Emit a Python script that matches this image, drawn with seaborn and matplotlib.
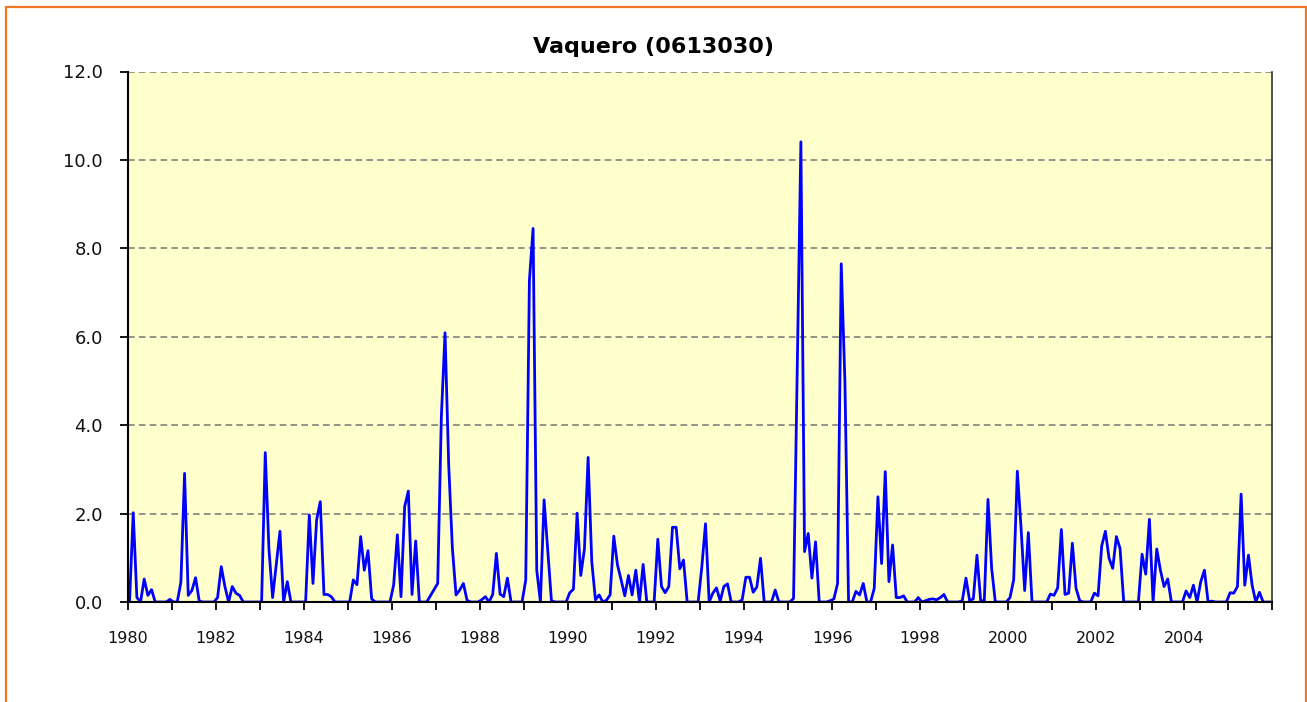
"""Monthly flow series chart for the Vaquero station (0613030)."""

import matplotlib

matplotlib.use("Agg")

import matplotlib.pyplot as plt
import numpy as np
import pandas as pd
import seaborn as sns
from matplotlib.patches import Rectangle

TITLE = "Vaquero (0613030)"
START_YEAR = 1980
END_YEAR = 2006

# monthly values, one row of 12 per year
flow_1980s = [
    0.0, 2.02, 0.1, 0.0, 0.52, 0.15, 0.28, 0.0, 0.0, 0.0, 0.0, 0.06,      # 1980
    0.0, 0.0, 0.45, 2.91, 0.15, 0.26, 0.55, 0.02, 0.0, 0.0, 0.0, 0.0,     # 1981
    0.1, 0.8, 0.35, 0.0, 0.35, 0.2, 0.15, 0.0, 0.0, 0.0, 0.0, 0.0,        # 1982
    0.0, 3.38, 1.2, 0.1, 0.85, 1.6, 0.0, 0.46, 0.0, 0.0, 0.0, 0.0,        # 1983
    0.0, 1.97, 0.42, 1.86, 2.27, 0.17, 0.17, 0.12, 0.0, 0.0, 0.0, 0.0,    # 1984
    0.0, 0.5, 0.39, 1.48, 0.72, 1.16, 0.07, 0.0, 0.0, 0.0, 0.0, 0.0,      # 1985
    0.39, 1.52, 0.12, 2.16, 2.51, 0.17, 1.38, 0.0, 0.0, 0.0, 0.14, 0.28,  # 1986
    0.42, 4.2, 6.09, 3.1, 1.22, 0.16, 0.27, 0.42, 0.04, 0.0, 0.0, 0.0,    # 1987
    0.05, 0.12, 0.0, 0.17, 1.1, 0.18, 0.12, 0.54, 0.0, 0.0, 0.0, 0.0,     # 1988
    0.5, 7.28, 8.45, 0.72, 0.0, 2.31, 1.17, 0.03, 0.0, 0.0, 0.0, 0.0,     # 1989
]
flow_1990s = [
    0.21, 0.29, 2.01, 0.6, 1.2, 3.27, 0.91, 0.05, 0.16, 0.0, 0.04, 0.16,  # 1990
    1.49, 0.84, 0.5, 0.14, 0.6, 0.16, 0.72, 0.0, 0.85, 0.0, 0.0, 0.0,     # 1991
    1.42, 0.35, 0.21, 0.35, 1.69, 1.69, 0.75, 0.95, 0.0, 0.0, 0.0, 0.0,   # 1992
    0.8, 1.77, 0.0, 0.2, 0.32, 0.02, 0.35, 0.41, 0.0, 0.0, 0.0, 0.05,     # 1993
    0.56, 0.56, 0.22, 0.34, 0.99, 0.0, 0.0, 0.0, 0.27, 0.0, 0.0, 0.0,     # 1994
    0.0, 0.08, 5.3, 10.41, 1.14, 1.55, 0.54, 1.36, 0.0, 0.0, 0.0, 0.03,   # 1995
    0.07, 0.42, 7.65, 5.0, 0.0, 0.0, 0.24, 0.16, 0.42, 0.0, 0.0, 0.31,    # 1996
    2.38, 0.87, 2.95, 0.46, 1.29, 0.1, 0.1, 0.14, 0.0, 0.0, 0.0, 0.1,     # 1997
    0.0, 0.03, 0.06, 0.07, 0.05, 0.1, 0.17, 0.0, 0.0, 0.0, 0.0, 0.03,     # 1998
    0.54, 0.03, 0.07, 1.06, 0.03, 0.03, 2.32, 0.76, 0.0, 0.0, 0.0, 0.0,   # 1999
]
flow_2000s = [
    0.1, 0.5, 2.96, 1.7, 0.26, 1.57, 0.0, 0.0, 0.0, 0.0, 0.0, 0.18,       # 2000
    0.15, 0.32, 1.64, 0.17, 0.2, 1.33, 0.31, 0.03, 0.0, 0.0, 0.0, 0.2,    # 2001
    0.14, 1.27, 1.6, 0.99, 0.76, 1.48, 1.21, 0.0, 0.0, 0.0, 0.0, 0.0,     # 2002
    1.08, 0.63, 1.87, 0.0, 1.2, 0.72, 0.35, 0.52, 0.0, 0.0, 0.0, 0.0,     # 2003
    0.25, 0.1, 0.38, 0.0, 0.46, 0.72, 0.0, 0.02, 0.0, 0.0, 0.0, 0.0,      # 2004
    0.21, 0.2, 0.35, 2.44, 0.38, 1.06, 0.38, 0.0, 0.22, 0.0, 0.0, 0.0,    # 2005
]

y_ticks = [0.0, 2.0, 4.0, 6.0, 8.0, 10.0, 12.0]
x_ticks = list(range(START_YEAR, END_YEAR + 1))
x_labels = [str(y) if (y % 2 == 0 and y < END_YEAR) else "" for y in x_ticks]

FIG_W, FIG_H = 1307, 702
LINE_COLOR = "#0000FF"
PLOT_BG = "#FFFFCC"
BORDER_COLOR = "#F07820"


def build_frame() -> pd.DataFrame:
    values = flow_1980s + flow_1990s + flow_2000s
    months = np.arange(len(values))
    return pd.DataFrame({"date": START_YEAR + (months + 0.5) / 12.0, "flow": values})


def main() -> None:
    sns.set_theme(style="white")
    plt.rcParams["font.family"] = ["DejaVu Sans"]

    df = build_frame()

    fig = plt.figure(figsize=(FIG_W / 100, FIG_H / 100), dpi=100)
    ax = fig.add_axes([127.7 / FIG_W, 1 - 602 / FIG_H, (1272.3 - 127.7) / FIG_W, (602 - 71.5) / FIG_H])
    ax.set_facecolor(PLOT_BG)

    sns.lineplot(data=df, x="date", y="flow", ax=ax, color=LINE_COLOR, linewidth=2.0)

    ax.set_xlim(START_YEAR, END_YEAR)
    ax.set_ylim(0, 12)
    ax.set_yticks(y_ticks)
    ax.set_yticklabels([f"{v:.1f}" for v in y_ticks])
    ax.set_xticks(x_ticks)
    ax.set_xticklabels(x_labels)
    ax.set_xlabel("")
    ax.set_ylabel("")

    ax.yaxis.grid(True, color="#808080", linestyle=(0, (4, 2.5)), linewidth=1.2)
    ax.xaxis.grid(False)
    ax.set_axisbelow(True)

    for side in ("left", "bottom", "right"):
        ax.spines[side].set_color("black")
        ax.spines[side].set_linewidth(1.5)
    ax.spines["right"].set_color("#303030")
    ax.spines["right"].set_linewidth(1.2)
    ax.spines["top"].set_visible(False)

    ax.tick_params(axis="y", direction="out", length=6, width=1.3, color="black",
                   labelsize=13, pad=12, labelcolor="#111111")
    ax.tick_params(axis="x", direction="out", length=6, width=1.3, color="black",
                   labelsize=11.5, pad=15, labelcolor="#111111")
    ax.tick_params(left=True, bottom=True)

    fig.text(0.5, 1 - 47 / FIG_H, TITLE, ha="center", va="center",
             fontsize=16, fontweight="bold", color="black")

    border = Rectangle((5.7 / FIG_W, -0.05), (1306 - 5.7) / FIG_W, (FIG_H - 6.7) / FIG_H + 0.05,
                       transform=fig.transFigure, fill=False, edgecolor=BORDER_COLOR,
                       linewidth=1.6, clip_on=False)
    fig.patches.append(border)

    fig.savefig("out.png", dpi=100)
    plt.close(fig)


if __name__ == "__main__":
    main()
